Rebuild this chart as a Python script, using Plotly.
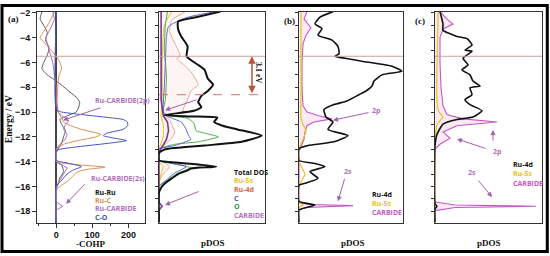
import plotly.graph_objects as go

W, H = 550, 256
def px(x): return x / W
def py(y): return 1 - y / H

E_RANGE = [-18.91, -1.92]
E_FERMI = -5.5
E_DASH = -8.6

# ---------------- panel (a): -COHP ----------------
a_ruru_E = [-1.9, -2.5, -3.0, -3.6, -4.2, -4.8, -5.4, -6.0, -6.5, -7.0, -7.6, -8.2, -8.8, -9.2, -9.6, -10.0, -10.3, -10.6, -11.0, -11.5, -12.0, -12.5, -13.0, -13.3, -14.0, -14.3, -14.8, -15.3, -15.8, -16.2, -16.5, -18.9]
a_ruru_v = [-40, -45, -35, -25, -30, -20, -25, -35, -40, -25, 5, 30, 55, 65, 62, 55, 30, 10, 15, 25, 20, 15, 5, 0, 0, 15, 20, 10, 5, 0, 0, 0]
a_ruc_E = [-1.9, -2.8, -3.5, -4.0, -4.5, -5.0, -5.5, -6.0, -6.5, -7.0, -7.5, -8.5, -9.5, -10.0, -10.5, -10.8, -11.1, -11.4, -11.8, -12.0, -12.3, -12.6, -13.0, -13.5, -14.0, -14.2, -14.45, -14.6, -14.8, -15.2, -15.6, -16.0, -16.3, -18.9]
a_ruc_v = [-5, -20, -35, -45, -30, -15, 0, 10, 15, 8, 5, 3, 2, 5, 15, 20, 40, 70, 123, 110, 60, 20, 0, 0, 0, 40, 135, 90, 60, 45, 30, 10, 0, 0]
a_rucarb_E = [-1.9, -2.5, -3.2, -4.0, -5.0, -6.0, -7.0, -8.0, -9.0, -10.0, -10.4, -10.7, -11.0, -11.4, -11.8, -12.2, -12.6, -13.0, -13.5, -14.0, -14.5, -15.0, -15.5, -16.0, -17.25, -17.6, -17.9, -18.9]
a_rucarb_v = [-10, -5, -15, -30, -20, -10, -5, 0, 0, 5, 20, 35, 25, 20, 30, 25, 10, 0, 0, 0, 30, 20, 10, 0, 0, 18, 0, 0]
a_co_E = [-1.9, -9.8, -10.0, -10.3, -10.6, -10.8, -11.1, -11.4, -11.7, -11.9, -12.1, -12.3, -12.5, -12.8, -13.1, -13.9, -14.1, -14.4, -14.7, -15.0, -15.5, -16.0, -18.9]
a_co_v = [0, 0, 15, 100, 185, 197, 198, 185, 140, 130, 160, 195, 150, 60, 0, 0, 30, 70, 45, 30, 15, 0, 0]

# ---------------- panel 2: pDOS ----------------
p_tot_E = [-1.9, -2.35, -2.7, -3.3, -3.9, -4.7, -5.5, -5.8, -6.2, -6.6, -7.3, -7.8, -8.3, -8.7, -9.2, -9.6, -9.9, -10.25, -10.35, -10.45, -10.8, -11.1, -11.4, -11.9, -12.4, -12.7, -13.0, -13.3, -13.9, -14.1, -14.4, -14.55, -14.7, -15.0, -15.35, -15.8, -16.1, -16.5, -18.9]
p_tot_v = [58, 35, 18, 18, 21, 27, 26, 30, 37, 43, 46, 51, 46, 40, 37, 40, 33, 5, 30, 55, 52, 60, 74, 97, 78, 43, 6, 0, 0, 20, 54, 30, 27, 18, 12, 5, 2, 0, 0]
p_ru4d_E = [-1.9, -2.6, -3.5, -4.3, -5.0, -5.4, -5.7, -6.3, -6.85, -7.4, -7.8, -8.3, -9.0, -9.5, -10.0, -10.3, -10.6, -11.0, -11.6, -12.1, -12.6, -13.0, -13.9, -14.1, -14.4, -14.8, -15.5, -18.9]
p_ru4d_v = [25, 12, 10, 14, 18, 20, 17, 25, 31, 35, 37, 30, 27, 24, 22, 4, 10, 12, 15, 12, 6, 0, 0, 5, 10, 6, 0, 0]
p_c_E = [-1.9, -2.4, -3.1, -4.0, -6.0, -8.0, -9.5, -10.2, -10.5, -10.8, -11.3, -11.9, -12.2, -12.7, -13.0, -13.9, -14.1, -14.4, -14.9, -15.4, -16.0, -18.9]
p_c_v = [53, 25, 9, 7, 6, 5, 4, 5, 12, 21, 25, 28, 30, 15, 0, 0, 10, 26, 15, 8, 0, 0]
p_o_E = [-1.9, -3.0, -5.0, -7.0, -9.0, -10.0, -10.3, -10.5, -10.9, -11.5, -11.7, -12.0, -12.4, -12.6, -13.0, -13.9, -14.2, -14.5, -14.9, -15.5, -16.0, -18.9]
p_o_v = [8, 6, 5, 7, 6, 4, 10, 27, 33, 35, 43, 56, 37, 15, 0, 0, 15, 30, 18, 8, 0, 0]
p_ru5s_E = [-1.9, -3.0, -6.0, -9.0, -10.3, -11.0, -12.0, -13.0, -14.0, -14.4, -15.0, -16.0, -18.9]
p_ru5s_v = [12, 5, 3, 3, 2, 4, 4, 0, 0, 4, 2, 0, 0]
p_carb_E = [-1.9, -5.0, -9.0, -10.3, -10.8, -11.5, -12.2, -12.8, -13.2, -17.3, -17.6, -17.9, -18.9]
p_carb_v = [2, 2, 2, 4, 8, 9, 7, 3, 0, 0, 3, 0, 0]

# ---------------- panel (b) ----------------
b_ru4d_E = [-1.9, -2.34, -2.88, -3.27, -3.8, -4.2, -4.7, -5.3, -5.5, -5.66, -5.9, -6.3, -6.7, -7.0, -7.5, -7.9, -8.3, -8.6, -9.1, -9.4, -9.8, -10.4, -10.8, -11.4, -11.9, -12.4, -12.7, -12.96, -13.9, -14.15, -14.4, -14.8, -15.35, -15.75, -15.9, -17.2, -17.5, -17.9, -18.9]
b_ru4d_v = [34, 21, 16, 23, 19, 33, 39, 40, 36, 46, 63, 93, 103, 83, 75, 73, 67, 60, 48, 35, 25, 27, 34, 29, 49, 35, 9, 0, 0, 16, 26, 11, 19, 6, 0, 0, 16, 0, 0]
b_carb_E = [-1.9, -2.5, -3.2, -3.8, -4.5, -6.0, -8.0, -9.5, -10.0, -10.3, -10.55, -10.8, -11.1, -11.6, -12.2, -12.8, -13.2, -17.3, -17.45, -17.55, -17.7, -17.9, -18.9]
b_carb_v = [8, 5, 12, 7, 4, 3, 3, 4, 8, 20, 33, 15, 8, 6, 5, 2, 0, 0, 10, 54, 8, 0, 0]
b_ru5s_E = [-1.9, -4.0, -8.0, -10.5, -11.0, -11.5, -12.0, -12.6, -13.0, -14.0, -14.5, -15.0, -15.5, -16.0, -17.3, -17.5, -17.7, -18.9]
b_ru5s_v = [2, 2, 2, 2, 4, 7, 5, 2, 0, 0, 3, 6, 3, 0, 0, 4, 0, 0]

# ---------------- panel (c) ----------------
c_ru4d_E = [-1.9, -2.9, -3.4, -3.9, -4.07, -4.6, -5.0, -5.1, -5.66, -6.2, -6.6, -7.0, -7.5, -7.9, -8.05, -8.6, -9.0, -9.4, -9.9, -10.4, -10.6, -10.97, -11.8, -12.7, -17.4, -17.6, -17.8, -18.9]
c_ru4d_v = [5, 8, 8, 22, 32, 37, 30, 37, 28, 33, 27, 35, 38, 45, 35, 37, 30, 35, 47, 38, 22, 8, 2, 0, 0, 2, 0, 0]
c_carb_E = [-1.9, -2.5, -2.9, -3.3, -4.0, -6.0, -8.0, -9.5, -10.2, -10.55, -10.8, -11.1, -11.6, -12.1, -12.6, -13.0, -17.25, -17.5, -17.6, -17.7, -17.95, -18.9]
c_carb_v = [5, 12, 18, 8, 5, 5, 6, 8, 12, 28, 62, 22, 8, 15, 5, 0, 0, 20, 101, 20, 0, 0]
c_ru5s_E = [-1.9, -3.0, -6.0, -9.0, -9.8, -10.1, -10.4, -10.7, -11.0, -11.5, -12.5, -18.9]
c_ru5s_v = [3, 3, 2, 2, 3, 5, 8, 5, 2, 1, 0, 0]

BLACK = "#111111"; ORANGE = "#d98e52"; PURPLE = "#b070bc"; BLUE = "#4656c4"
SALMON = "#eea08e"; GREEN = "#4caf50"; YELLOW = "#e6c21a"; MAGENTA = "#c458c4"
PINKFILL = "rgba(238,170,210,0.25)"

fig = go.Figure()

def add(v, E, ax, color, width=1.0, shape="spline", fill=None, fillcolor=None):
    fig.add_trace(go.Scatter(
        x=v, y=E, mode="lines", xaxis="x" + ax, yaxis="y" + ax,
        line=dict(color=color, width=width, shape=shape, smoothing=0.5),
        fill=fill, fillcolor=fillcolor, showlegend=False, hoverinfo="skip"))

# panel a
add(a_ruru_v, a_ruru_E, "", "#5a5a66", 1.0)
add(a_ruc_v, a_ruc_E, "", ORANGE, 1.0)
add(a_rucarb_v, a_rucarb_E, "", PURPLE, 1.0, "linear")
add(a_co_v, a_co_E, "", BLUE, 1.0)
# panel 2
add(p_ru4d_v, p_ru4d_E, "2", SALMON, 1.0, fill="tozerox", fillcolor="rgba(240,170,170,0.12)")
add(p_ru5s_v, p_ru5s_E, "2", YELLOW, 1.0)
add(p_o_v, p_o_E, "2", GREEN, 1.0)
add(p_c_v, p_c_E, "2", "#5a68d0", 1.0)
add(p_carb_v, p_carb_E, "2", "#7a3a8a", 1.6, "linear")
add(p_tot_v, p_tot_E, "2", BLACK, 2.0)
# panel b
add(b_carb_v, b_carb_E, "3", MAGENTA, 1.1, "linear", fill="tozerox", fillcolor=PINKFILL)
add(b_ru5s_v, b_ru5s_E, "3", YELLOW, 1.2)
add(b_ru4d_v, b_ru4d_E, "3", BLACK, 1.6)
# panel c
add(c_carb_v, c_carb_E, "4", MAGENTA, 1.1, "linear", fill="tozerox", fillcolor=PINKFILL)
add(c_ru5s_v, c_ru5s_E, "4", YELLOW, 1.2)
add(c_ru4d_v, c_ru4d_E, "4", BLACK, 1.6)

domains = {"": (37, 145), "2": (159, 265), "3": (299, 403), "4": (435, 542)}
xranges = {"": [-53.6, 246], "2": [0, 100], "3": [0, 104], "4": [0, 107]}
ydom = [py(222), py(8)]

lay = dict(width=W, height=H, margin=dict(l=0, r=0, t=0, b=0),
           paper_bgcolor="white", plot_bgcolor="white")
tickfont = dict(family="Liberation Sans, Arial", size=9, color="#111", weight="bold")
for k, (x0, x1) in domains.items():
    xa = dict(domain=[px(x0), px(x1)], range=xranges[k], showgrid=False, zeroline=False,
              showline=True, linecolor="#333", linewidth=1, mirror=True, fixedrange=True,
              anchor="y" + k)
    ya = dict(domain=ydom, range=E_RANGE, showgrid=False, zeroline=False,
              showline=True, linecolor="#333", linewidth=1, mirror=True, fixedrange=True,
              anchor="x" + k)
    if k == "":
        xa.update(tickvals=[0, 100, 200], ticks="outside", ticklen=4, tickcolor="#333",
                  tickfont=tickfont, zeroline=True, zerolinecolor="#444", zerolinewidth=1.5,
                  minor=dict(tickvals=[-50, 50, 150], ticks="outside", ticklen=2, tickcolor="#333"))
        ya.update(tickvals=list(range(-2, -19, -2)), ticks="outside", ticklen=4, tickcolor="#333",
                  tickfont=tickfont)
    else:
        xa.update(showticklabels=False, ticks="")
        ya.update(showticklabels=False, ticks="outside", tick0=-2, dtick=1, ticklen=3, tickcolor="#333")
    lay["xaxis" + k] = xa
    lay["yaxis" + k] = ya
fig.update_layout(**lay)

# Fermi level lines and dashed line
for k in domains:
    fig.add_shape(type="line", xref=("x" + k + " domain"), yref="y" + k,
                  x0=0, x1=1, y0=E_FERMI, y1=E_FERMI, line=dict(color="#c9a0a0", width=1))
fig.add_shape(type="line", xref="x2 domain", yref="y2", x0=0, x1=1, y0=E_DASH, y1=E_DASH,
              line=dict(color="#d87070", width=1, dash="dash"))

# outer frame
fig.add_shape(type="rect", xref="paper", yref="paper", x0=px(2), x1=px(547.3), y0=py(251.5), y1=py(1.5),
              line=dict(color="black", width=3))

SERIF = "Liberation Serif, Times New Roman"
SANS = "Open Sans, Liberation Sans"

def text(x, y, s, color, size=7, xref="paper", yref="paper", anchor="left", bold=True, family=SANS, angle=0):
    fig.add_annotation(x=x, y=y, xref=xref, yref=yref, text=s, showarrow=False, xanchor=anchor,
                       yanchor="middle", textangle=angle,
                       font=dict(family=family, size=size, color=color, weight="bold" if bold else "normal"))

def arrow(x, y, ax_, ay_, k, color="#a062b0", width=1.0):
    fig.add_annotation(x=x, y=y, xref="x" + k, yref="y" + k, ax=ax_, ay=ay_, text="",
                       showarrow=True, arrowhead=2, arrowsize=1, arrowwidth=width, arrowcolor=color)

# axis titles / panel labels
text(px(9), py(117), "Energy / eV", "#111", 9.5, anchor="center", family=SERIF, angle=-90)
text(px(90), py(244), "-COHP", "#111", 9, anchor="center", family=SERIF)
for xc in (213, 353, 489):
    text(px(xc), py(243), "pDOS", "#111", 9, anchor="center", family=SERIF)
text(px(13), py(15), "(a)", "#111", 9, anchor="center", family=SERIF)
text(px(289), py(17), "(b)", "#111", 9, anchor="center", family=SERIF)
text(px(420), py(17), "(c)", "#111", 9, anchor="center", family=SERIF)

# legends (panel a)
for s, c, yy in [("Ru-Ru", "#111", 191), ("Ru-C", ORANGE, 199.5), ("Ru-CARBIDE", PURPLE, 208), ("C-O", BLUE, 217)]:
    text(px(93), py(yy), s, c)
# legends (panel 2)
for s, c, yy in [("Total DOS", "#111", 171), ("Ru-5s", YELLOW, 179.5), ("Ru-4d", "#e0603e", 188),
                 ("C", BLUE, 197.5), ("O", "#2a9a50", 206), ("CARBIDE", PURPLE, 215)]:
    text(px(232), py(yy), s, c)
# legends (b), (c)
for s, c, yy in [("Ru-4d", "#111", 194), ("Ru-5s", YELLOW, 203), ("CARBIDE", MAGENTA, 212)]:
    text(px(370), py(yy), s, c)
for s, c, yy in [("Ru-4d", "#111", 163), ("Ru-5s", YELLOW, 172.5), ("CARBIDE", MAGENTA, 182)]:
    text(px(511), py(yy), s, c)

# panel a annotations
text(px(93), py(98), "Ru-CARBIDE(2p)", PURPLE)
arrow(18.6, -10.66, 39, -13, "")
text(px(89), py(177), "Ru-CARBIDE(2s)", PURPLE)
arrow(27, -17.4, 20, -21, "")
# panel 2 annotations
arrow(5.7, -9.86, 33, -11, "2")
arrow(5.7, -17.49, 35, -14, "2")
fig.add_annotation(x=87.7, y=E_FERMI, xref="x2", yref="y2", ax=87.7, ay=E_DASH, axref="x2", ayref="y2",
                   text="", showarrow=True, arrowhead=2, startarrowhead=2, arrowside="end+start",
                   arrowsize=1, arrowwidth=1.5, arrowcolor="#b5553c")
text(px(258), py(70), "3.1 eV", "#111", 8, anchor="center", family=SERIF, angle=90)
# panel b annotations
text(px(376), py(108), "2p", PURPLE, anchor="center")
arrow(34, -10.66, 37, -8, "3")
text(px(348), py(170), "2s", PURPLE, anchor="center")
arrow(39, -17.2, 7, -24, "3")
# panel c annotations
text(px(498), py(150), "2p", PURPLE, anchor="center")
arrow(58, -11.45, 0, 12, "4")
arrow(22, -12.17, 30, 10, "4")
text(px(472), py(171), "2s", PURPLE, anchor="center")
arrow(57, -16.85, -15, -18, "4")

fig.write_html("out.html", config={"displayModeBar": False},
               post_script="document.body.style.margin='0';document.body.style.overflow='hidden';")
